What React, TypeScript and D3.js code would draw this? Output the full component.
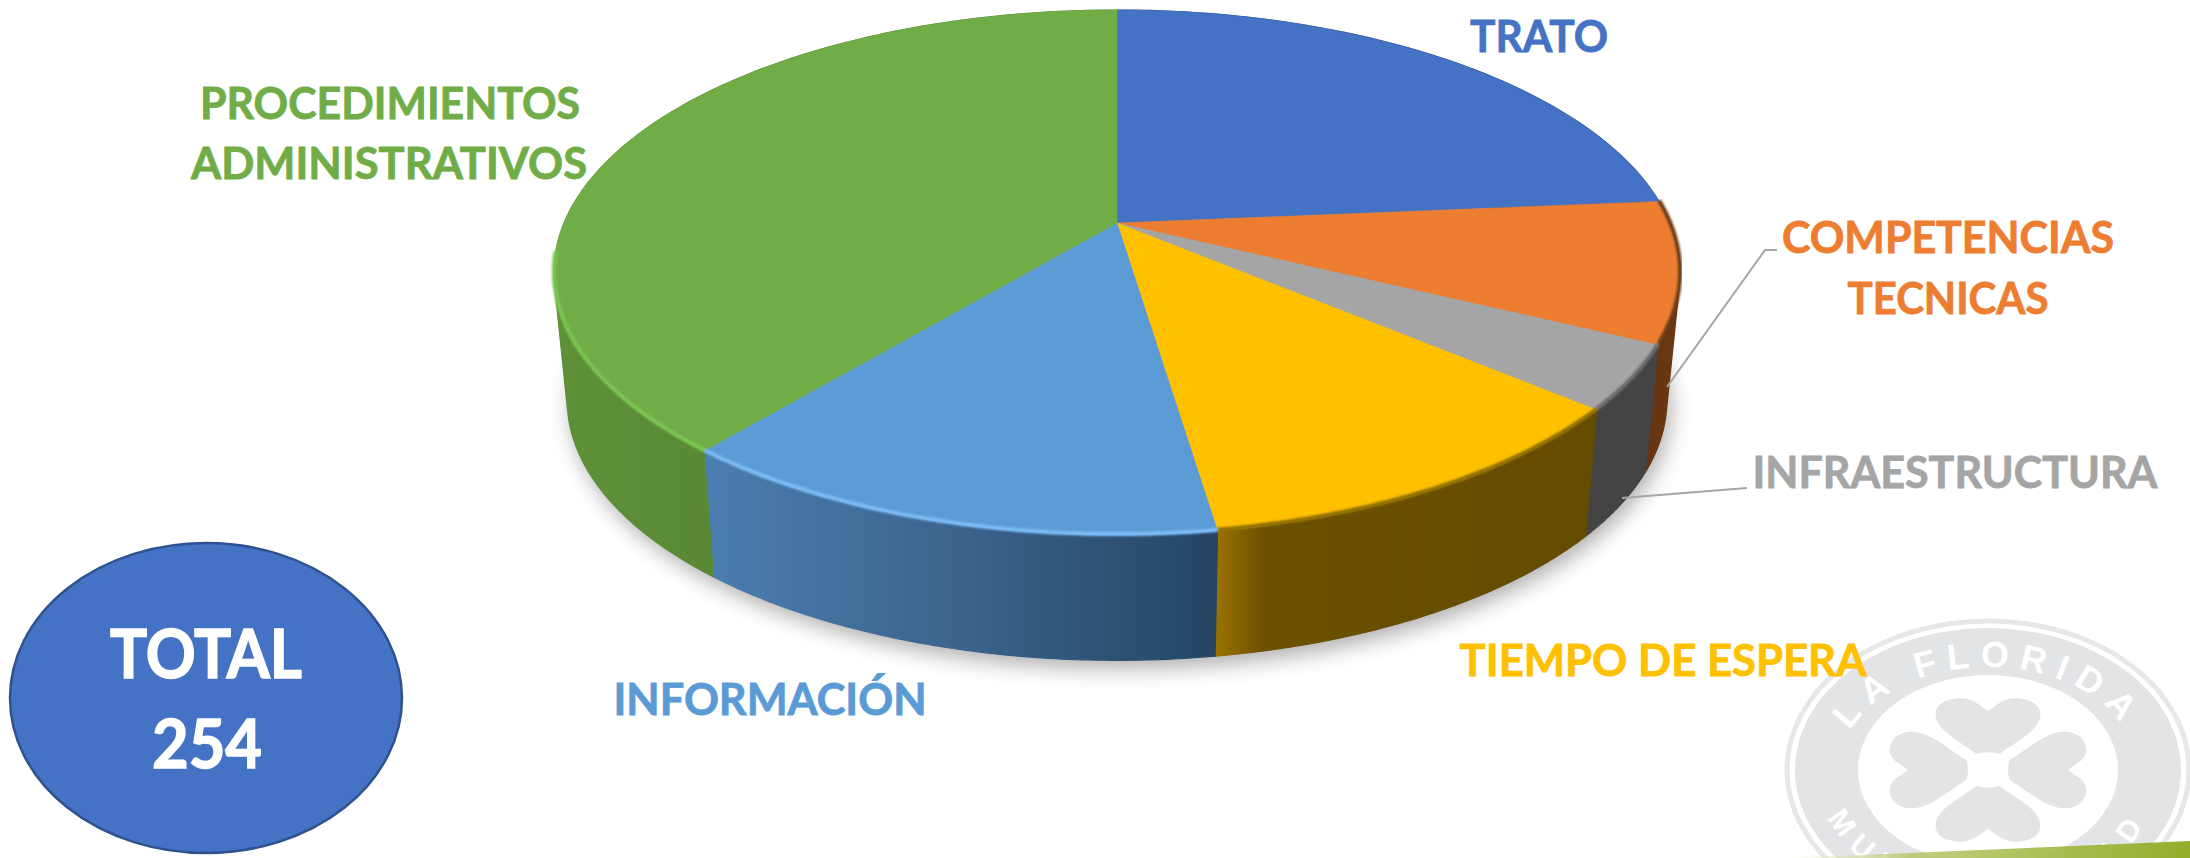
import React from "react";
import * as d3 from "d3";

const categories = ["TRATO", "COMPETENCIAS TECNICAS", "INFRAESTRUCTURA", "TIEMPO DE ESPERA", "INFORMACIÓN", "PROCEDIMIENTOS ADMINISTRATIVOS"];
const values = [60, 22, 10, 29, 34, 99];
const topColors = ["#4472c4", "#ed7d31", "#a5a5a5", "#ffc000", "#5b9bd5", "#70ad47"];
const rimColors = ["#4472c4", "#6a3a16", "#666666", "#8a6a00", "#7dbcf7", "#7cc653"];
const totalLabel = ["TOTAL", "254"];

type Lbl = { t: string; x: number; y: number; w: number; c: string };
const labels: Lbl[] = [
  { t: "TRATO", x: 1539, y: 52, w: 138, c: topColors[0] },
  { t: "COMPETENCIAS", x: 1948, y: 253, w: 332, c: topColors[1] },
  { t: "TECNICAS", x: 1948, y: 314, w: 201, c: topColors[1] },
  { t: "INFRAESTRUCTURA", x: 1955, y: 488, w: 405, c: topColors[2] },
  { t: "TIEMPO DE ESPERA", x: 1663, y: 676, w: 407, c: topColors[3] },
  { t: "INFORMACIÓN", x: 770, y: 715, w: 313, c: topColors[4] },
  { t: "PROCEDIMIENTOS", x: 390, y: 119, w: 380, c: topColors[5] },
  { t: "ADMINISTRATIVOS", x: 389, y: 179, w: 396, c: topColors[5] },
];

// perspective projection of the unit disc
const k = 0.1886;
const cx = 1117;
type P = [number, number];
const topRim = (a: number, r = 1): P => {
  const u = r * Math.sin(a), v = r * Math.cos(a), w = 1 + k * v;
  return [cx + (553 * u) / w, 223 - (253.2 * v) / w];
};
const botRim = (a: number): P => {
  const u = Math.sin(a), v = Math.cos(a), w = 1 + k * v;
  return [cx + (540 * u) / w, 351 - (251 * v) / w];
};

const arcs = d3.pie<number>().sort(null).startAngle(0).endAngle(2 * Math.PI)(values);
const line = d3.line();
const samples = (a0: number, a1: number) => d3.range(0, 81).map((i) => a0 + ((a1 - a0) * i) / 80);
const facePath = (a0: number, a1: number) => line([topRim(0, 0), ...samples(a0, a1).map((a) => topRim(a))]) + "Z";
// the wall is a run of small quads, each wound the same way, so the fold at the silhouette stays filled
const wallPath = (a0: number, a1: number) => {
  const s = samples(a0, a1);
  return d3.pairs(s).map(([p, q]) => {
    const quad: P[] = [topRim(p), topRim(q), botRim(q), botRim(p)];
    const poly = d3.polygonArea(quad) < 0 ? quad.slice().reverse() : quad;
    return line(poly) + "Z";
  }).join("");
};
const rimPath = (a0: number, a1: number) => line(samples(a0, a1).map((a) => topRim(a))) ?? "";
const shadowPath = line(samples(0, 2 * Math.PI).map(botRim)) + "Z";

const wallFill = ["#2f4f88", "url(#wOrange)", "#444444", "url(#wYellow)", "url(#wBlue)", "url(#wGreen)"];

const C = { x: 1988, y: 770 };
const petalSide = "M-65,-30 C-110,-55 -170,-115 -230,-115 C-275,-115 -295,-85 -295,-60 C-295,-30 -265,-20 -240,0 C-265,20 -295,30 -295,60 C-295,85 -275,115 -230,115 C-170,115 -110,55 -65,30 Q-55,0 -65,-30Z";
const petalTop = "M-35,-48 C-90,-90 -160,-120 -157,-170 C-155,-205 -110,-215 -80,-215 C-45,-215 -20,-190 0,-177 C20,-190 45,-215 80,-215 C110,-215 155,-205 157,-170 C160,-120 90,-90 35,-48 Q0,-58 -35,-48Z";

export default function App() {
  return (
    <svg width={2190} height={858} viewBox="0 0 2190 858"
      style={{ position: "absolute", left: 0, top: 0, display: "block", background: "#fff" }}
      fontFamily="Lato, 'Open Sans', sans-serif" fontWeight={700}>
      <defs>
        <filter id="soft" x="-10%" y="-10%" width="120%" height="130%"><feGaussianBlur stdDeviation="11" /></filter>
        <filter id="rimBlur" x="-5%" y="-5%" width="110%" height="110%"><feGaussianBlur stdDeviation="1.2" /></filter>
        <linearGradient id="wGreen" gradientUnits="userSpaceOnUse" x1="550" x2="720" y1="0" y2="0">
          <stop offset="0" stopColor="#5f9139" /><stop offset="1" stopColor="#5a8835" />
        </linearGradient>
        <linearGradient id="wBlue" gradientUnits="userSpaceOnUse" x1="710" x2="1215" y1="0" y2="0">
          <stop offset="0" stopColor="#4a7eb0" /><stop offset="0.5" stopColor="#3b638c" /><stop offset="1" stopColor="#254564" />
        </linearGradient>
        <linearGradient id="wYellow" gradientUnits="userSpaceOnUse" x1="1215" x2="1600" y1="0" y2="0">
          <stop offset="0" stopColor="#9c7300" /><stop offset="0.13" stopColor="#6b5000" /><stop offset="1" stopColor="#644b00" />
        </linearGradient>
        <linearGradient id="wOrange" gradientUnits="userSpaceOnUse" x1="1600" x2="1680" y1="0" y2="0">
          <stop offset="0" stopColor="#5e3010" /><stop offset="1" stopColor="#6a3814" />
        </linearGradient>
        <linearGradient id="band" gradientUnits="userSpaceOnUse" x1="1790" x2="2190" y1="0" y2="0">
          <stop offset="0" stopColor="#f4f7dc" stopOpacity="0.3" /><stop offset="0.3" stopColor="#b5c766" stopOpacity="0.85" /><stop offset="1" stopColor="#93ad2a" />
        </linearGradient>
        <path id="logoTop" d={`M${C.x - 149},${C.y} A149,103 0 0 1 ${C.x + 149},${C.y}`} />
        <path id="logoBot" d={`M${C.x - 172},${C.y} A172,132 0 0 0 ${C.x + 172},${C.y}`} />
      </defs>

      {/* watermark logo */}
      <g>
        <ellipse cx={C.x} cy={C.y} rx={201} ry={149} fill="none" stroke="#e6e7e8" strokeWidth={5} />
        <ellipse cx={C.x} cy={C.y} rx={193} ry={142} fill="#e3e4e6" />
        <ellipse cx={C.x} cy={C.y} rx={130} ry={95} fill="#fff" />
        <g transform={`translate(${C.x},${C.y}) scale(${1 / 3})`} fill="#e3e4e6">
          <path d={petalTop} />
          <path d={petalTop} transform="scale(1,-1)" />
          <path d={petalSide} />
          <path d={petalSide} transform="scale(-1,1)" />
        </g>
        <text fill="#fff" fontSize={36} letterSpacing={10} textAnchor="middle" fontFamily="'Liberation Sans', sans-serif">
          <textPath href="#logoTop" startOffset="50%">LA FLORIDA</textPath>
        </text>
        <text fill="#fff" fontSize={30} letterSpacing={11} textAnchor="middle" fontFamily="'Liberation Sans', sans-serif">
          <textPath href="#logoBot" startOffset="50%">MUNICIPALIDAD</textPath>
        </text>
      </g>
      <polygon points="1790,858 2190,841 2190,858" fill="url(#band)" />

      {/* shadow */}
      <path d={shadowPath} fill="#000" opacity={0.32} filter="url(#soft)" transform="translate(4,8)" />

      {/* walls */}
      {arcs.map((d, i) => (
        <path key={i} d={wallPath(d.startAngle, d.endAngle)} fill={wallFill[i]} stroke={wallFill[i]} strokeWidth={1.2} strokeLinejoin="round" />
      ))}
      {/* top face */}
      {arcs.map((d, i) => (
        <path key={i} d={facePath(d.startAngle, d.endAngle)} fill={topColors[i]} stroke={topColors[i]} strokeWidth={0.5} />
      ))}
      {/* bevel along the rim */}
      {arcs.map((d, i) => (
        <path key={i} d={rimPath(d.startAngle, i === 5 ? 4.6 : d.endAngle)} fill="none"
          stroke={rimColors[i]} strokeWidth={4} filter="url(#rimBlur)" transform="translate(0,-1)" opacity={i === 0 ? 0 : 1} />
      ))}

      {/* leader lines */}
      <polyline points="1777,250 1765,250 1667,387" fill="none" stroke="#a6a6a6" strokeWidth={2} />
      <polyline points="1747,488 1622,498" fill="none" stroke="#a6a6a6" strokeWidth={2} />

      {/* labels */}
      {labels.map((l) => (
        <text key={l.t} x={l.x} y={l.y} fill={l.c} stroke={l.c} strokeWidth={0.8} fontSize={43} textAnchor="middle" textLength={l.w} lengthAdjust="spacingAndGlyphs"
          data-category={categories.find((c) => c.includes(l.t))}>
          {l.t}
        </text>
      ))}

      {/* total */}
      <ellipse cx={206} cy={698} rx={196} ry={155} fill="#4472c4" stroke="#2f528f" strokeWidth={2.5} />
      <text x={206} y={678} fill="#fff" stroke="#fff" strokeWidth={1.5} fontSize={66} textAnchor="middle" textLength={192} lengthAdjust="spacingAndGlyphs">{totalLabel[0]}</text>
      <text x={207} y={768} fill="#fff" stroke="#fff" strokeWidth={1.5} fontSize={66} textAnchor="middle" textLength={110} lengthAdjust="spacingAndGlyphs">{totalLabel[1]}</text>
    </svg>
  );
}
